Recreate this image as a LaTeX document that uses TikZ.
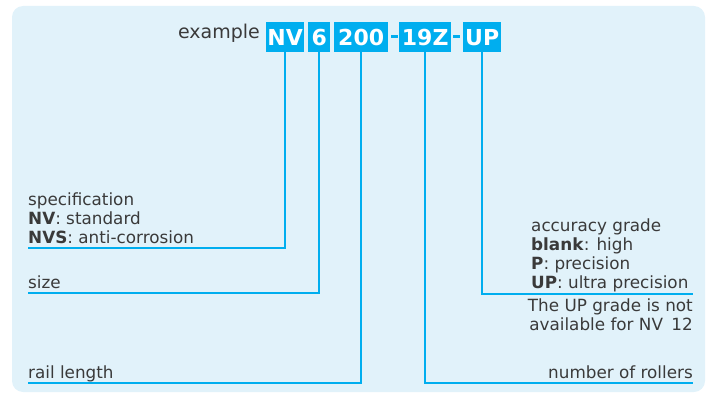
\documentclass[tikz,border=0pt]{standalone}
\usepackage{fontspec}
\setmainfont{DejaVu Sans}
\definecolor{bg}{HTML}{E1F2FA}
\definecolor{cy}{HTML}{00AEEF}
\definecolor{tx}{HTML}{3A3A3A}
\begin{document}
\begin{tikzpicture}[x=1pt,y=-1pt,
  code/.style={fill=cy, text=white, font=\fontsize{22}{22}\selectfont\bfseries, inner sep=0pt, minimum height=30pt, anchor=north west},
  dashbox/.style={fill=cy, inner sep=0pt, minimum width=7pt, minimum height=3pt},
  lbl/.style={text=tx, font=\fontsize{16.8}{19}\selectfont, inner sep=0pt},
  lead/.style={draw=cy, line width=1.5pt}]
\useasboundingbox (0,0) rectangle (706,393);
\fill[bg, rounded corners=11pt] (12,6) rectangle (705,392);
% header
\node[text=tx, font=\fontsize{19}{19}\selectfont, inner sep=0pt, anchor=base east] (ex) at (260,39) {example};
\node[code, minimum width=38pt] (nv) at (266,22) {NV};
\node[code, minimum width=22pt] (s6) at (308,22) {6};
\node[code, minimum width=54pt] (len) at (334,22) {200};
\node[dashbox] (d1) at (394,37) {};
\node[code, minimum width=52pt] (rol) at (399,22) {19Z};
\node[dashbox] (d2) at (456.5,37) {};
\node[code, minimum width=38pt] (acc) at (463,22) {UP};
% leader ends
\coordinate (specend) at (28,248);
\coordinate (sizeend) at (28,293);
\coordinate (railend) at (28,383);
\coordinate (rolend) at (693,383);
\coordinate (accend) at (693,294);
\draw[lead] (nv.south) |- (specend);
\draw[lead] (s6.south) |- (sizeend);
\draw[lead] (len.south) |- (railend);
\draw[lead] (rol.south) |- (rolend);
\draw[lead] (acc.south) |- (accend);
% left labels
\node[lbl, anchor=base west] (t1) at (28,205) {specification};
\node[lbl, anchor=base west] (t2) at (28,224) {\textbf{NV}: standard};
\node[lbl, anchor=base west] (t3) at (28,243) {\textbf{NVS}: anti-corrosion};
\node[lbl, anchor=base west] (t4) at (28,288) {size};
\node[lbl, anchor=base west] (t5) at (28,378) {rail length};
% right labels
\node[lbl, anchor=base west] (r1) at (531,231) {accuracy grade};
\node[lbl, anchor=base west] (r2) at (531,250) {\textbf{blank}: high};
\node[lbl, anchor=base west] (r3) at (531,269) {\textbf{P}: precision};
\node[lbl, anchor=base west] (r4) at (531,288) {\textbf{UP}: ultra precision};
\node[lbl, anchor=base east] (r5) at (693,311) {The UP grade is not};
\node[lbl, anchor=base east] (r6) at (693,330) {available for NV\enspace12};
\node[lbl, anchor=base east] (r7) at (693,378) {number of rollers};
\end{tikzpicture}
\end{document}
